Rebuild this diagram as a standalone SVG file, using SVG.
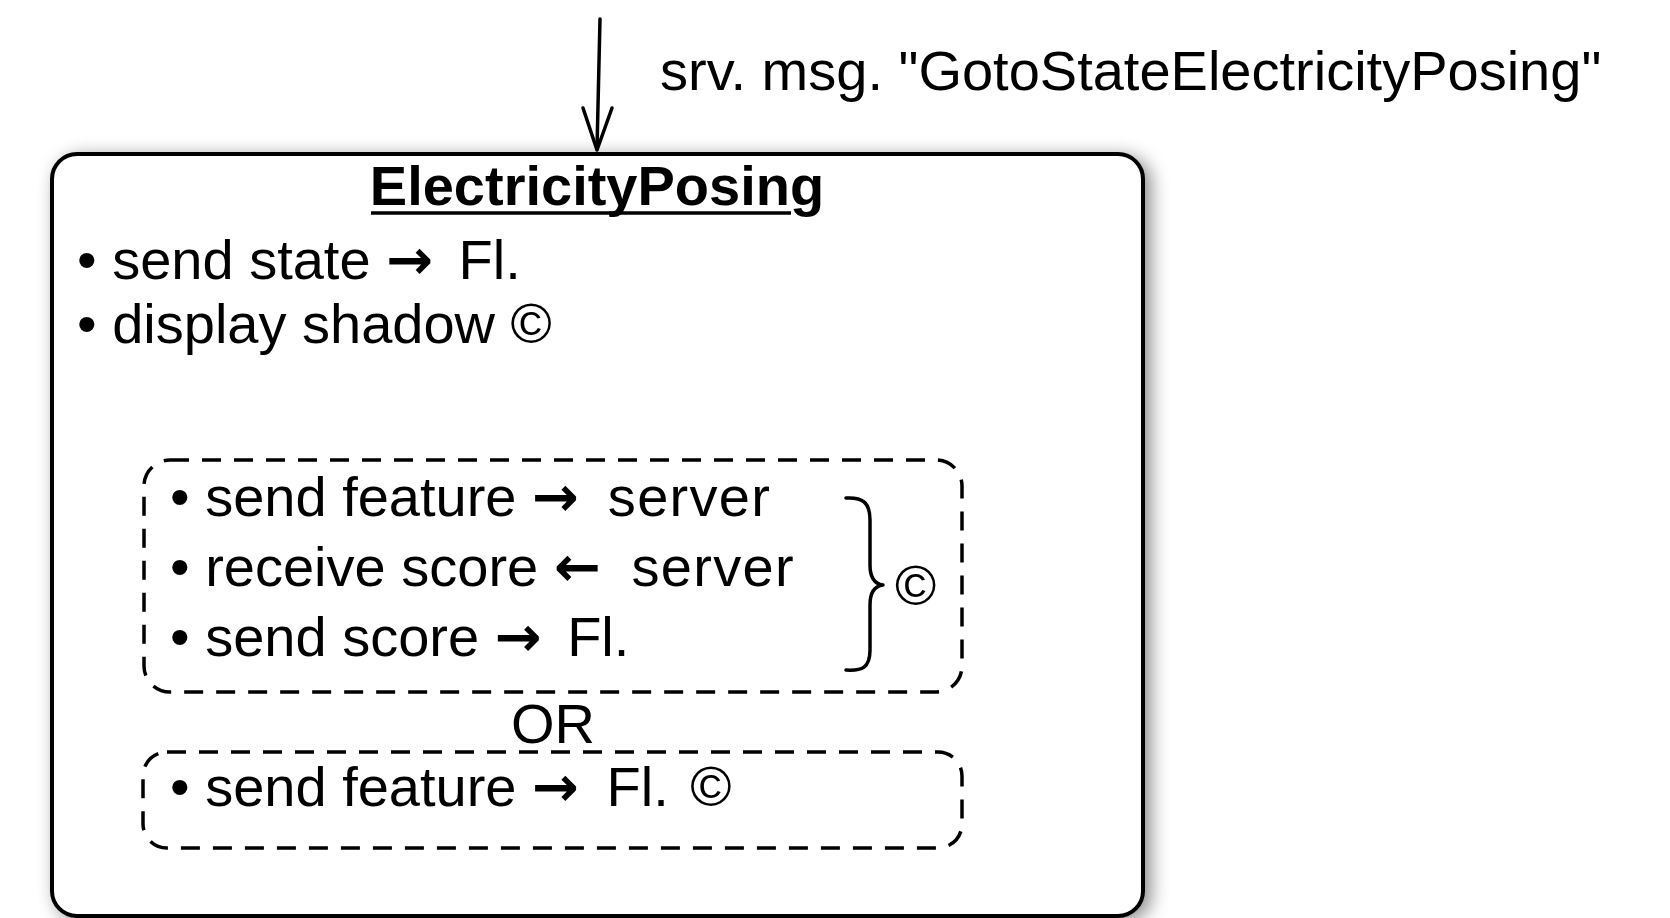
<svg xmlns="http://www.w3.org/2000/svg" width="1670" height="918" viewBox="0 0 1670 918">
<defs>
<style>
text{font-family:"Liberation Sans",Arial,sans-serif;font-size:56px;fill:#000}
.title{font-weight:bold}
.ar{font-family:"DejaVu Sans",sans-serif;font-weight:bold}
.sv{letter-spacing:1.3px}
.dash{fill:none;stroke:#000;stroke-width:3.5;stroke-dasharray:19 13}
.ln{fill:none;stroke:#000;stroke-width:3.5;stroke-linecap:round;stroke-linejoin:round}
</style>
<filter id="sh" x="-10%" y="-10%" width="120%" height="120%">
<feDropShadow dx="6" dy="4" stdDeviation="9" flood-color="#000" flood-opacity="0.45"/>
</filter>
</defs>
<rect width="1670" height="918" fill="#fff"/>
<g id="connectors">
<line class="ln" x1="600" y1="19" x2="597" y2="149"/>
<polyline class="ln" points="583,108 597,150 612,108"/>
<text x="660" y="90">srv. msg. "GotoStateElectricityPosing"</text>
</g>
<g id="node-electricityposing">
<rect x="52" y="154" width="1091" height="762" rx="25" ry="25" fill="#fff" stroke="#000" stroke-width="4" filter="url(#sh)"/>
<text class="title" x="597" y="205" text-anchor="middle">ElectricityPosing</text>
<line x1="371" y1="213" x2="791" y2="213" stroke="#000" stroke-width="3.5"/>
<text x="77" y="279">• send state <tspan class="ar">→</tspan><tspan dx="10"> Fl.</tspan></text>
<text x="77" y="343">• display shadow ©</text>
</g>
<g id="node-group1">
<rect class="dash" x="144" y="460" width="818" height="232" rx="26" ry="26"/>
<text x="170" y="516">• send feature <tspan class="ar">→</tspan><tspan dx="12" class="sv"> server</tspan></text>
<text x="170" y="586">• receive score <tspan class="ar">←</tspan><tspan dx="14" class="sv"> server</tspan></text>
<text x="170" y="656">• send score <tspan class="ar">→</tspan><tspan dx="10"> Fl.</tspan></text>
<path class="ln" d="M846,498 C862,497 870,502 870,520 L870,565 C870,578 875,584 883,585 C875,586 870,592 870,605 L870,650 C870,668 862,671 846,670"/>
<text x="895" y="605">©</text>
</g>
<text x="553" y="743" text-anchor="middle">OR</text>
<g id="node-group2">
<rect class="dash" x="143" y="752" width="819" height="96" rx="24" ry="24"/>
<text x="170" y="806">• send feature <tspan class="ar">→</tspan><tspan dx="12"> Fl.</tspan><tspan dx="6"> ©</tspan></text>
</g>
</svg>
